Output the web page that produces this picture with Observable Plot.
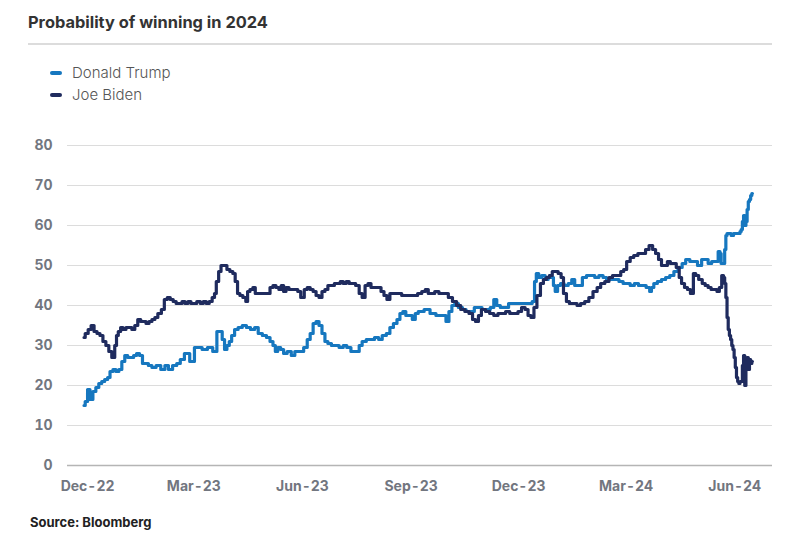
<!DOCTYPE html>
<html><head><meta charset="utf-8">
<script src="https://cdn.jsdelivr.net/npm/d3@7"></script>
<script src="https://cdn.jsdelivr.net/npm/@observablehq/plot@0.6"></script>
<style>
body{margin:0;background:#fff;}
#wrap{position:relative;width:800px;height:535px;font-family:Inter,"Open Sans",sans-serif;}
#title{position:absolute;left:28px;top:12px;font-size:16.4px;font-weight:700;color:#333;line-height:20px;}
#rule{position:absolute;left:28px;top:43px;width:744px;height:2px;background:#dcdcdc;}
.leg{position:absolute;left:50px;font-size:15px;font-weight:300;color:#555;display:flex;align-items:center;line-height:18px;}
.sw{width:12px;height:4px;border-radius:2px;margin-right:10px;}
#chart{position:absolute;left:0;top:115px;}
#source{position:absolute;left:30px;top:514px;font-size:13px;font-weight:700;color:#222;line-height:16px;}
</style></head>
<body>
<div id="wrap">
  <div id="title"></div>
  <div id="rule"></div>
  <div id="legend"></div>
  <div id="chart"></div>
  <div id="source"></div>
</div>
<script>
const titleText = "Probability of winning in 2024";
const sourceText = "Source: Bloomberg";
const seriesNames = ["Donald Trump", "Joe Biden"];
const seriesColors = ["#1677bf", "#1f2b5e"];
const yTicks = [0, 10, 20, 30, 40, 50, 60, 70, 80];
const xTicks = ["2022-12-01", "2023-03-01", "2023-06-01", "2023-09-01", "2023-12-01", "2024-03-01", "2024-06-01"];
const xDomain = ["2022-11-14", "2024-07-03"];

const trump = [
["2022-11-28",15],["2022-11-30",16],["2022-12-02",19],["2022-12-04",16.5],["2022-12-07",18.5],["2022-12-09",19.5],
["2022-12-12",20.5],["2022-12-14",21],["2022-12-17",21.5],["2022-12-19",22],["2022-12-21",23.5],["2022-12-24",24],
["2022-12-26",23.5],["2022-12-29",24],["2022-12-31",26],["2023-01-03",27.5],["2023-01-05",27],["2023-01-08",27],
["2023-01-10",27.5],["2023-01-13",28],["2023-01-15",27.5],["2023-01-18",25.5],["2023-01-20",25.5],["2023-01-23",25],
["2023-01-26",24.5],["2023-01-30",25],["2023-02-03",24],["2023-02-06",25],["2023-02-09",24],["2023-02-13",25],
["2023-02-16",25.5],["2023-02-19",26.5],["2023-02-23",28],["2023-02-25",28],["2023-02-26",26],["2023-02-28",26],
["2023-03-03",29.5],["2023-03-06",29.5],["2023-03-10",29],["2023-03-15",29.5],["2023-03-19",28.5],["2023-03-22",33.5],
["2023-03-24",33.5],["2023-03-26",31.5],["2023-03-28",29],["2023-03-30",30],["2023-04-01",31],["2023-04-03",32.5],
["2023-04-06",34],["2023-04-09",34.5],["2023-04-13",35],["2023-04-16",34.5],["2023-04-20",34],["2023-04-23",34.5],
["2023-04-26",33],["2023-04-30",32.5],["2023-05-03",32],["2023-05-06",31],["2023-05-08",30],["2023-05-10",28.5],
["2023-05-12",29.5],["2023-05-15",29],["2023-05-17",28],["2023-05-21",28.5],["2023-05-24",27.5],["2023-05-27",28.5],
["2023-05-31",28.5],["2023-06-04",29.5],["2023-06-06",31.5],["2023-06-09",33],["2023-06-11",35.5],["2023-06-14",36],
["2023-06-16",35],["2023-06-19",33],["2023-06-21",31],["2023-06-24",30.5],["2023-06-27",30],["2023-06-30",30],
["2023-07-04",29.5],["2023-07-07",30],["2023-07-10",29.5],["2023-07-14",28.5],["2023-07-18",28.5],["2023-07-20",30],
["2023-07-23",31],["2023-07-27",31.5],["2023-07-30",31.5],["2023-08-03",32],["2023-08-06",31.5],["2023-08-09",32.5],
["2023-08-13",33],["2023-08-15",34.5],["2023-08-19",35.5],["2023-08-21",36.5],["2023-08-24",38],["2023-08-26",38.5],
["2023-08-29",37.5],["2023-09-01",37.5],["2023-09-03",36.5],["2023-09-06",38],["2023-09-08",38.5],["2023-09-11",38.5],
["2023-09-13",39],["2023-09-16",39],["2023-09-18",38],["2023-09-21",38],["2023-09-23",37.5],["2023-09-26",37.5],
["2023-09-29",37.5],["2023-10-02",36],["2023-10-04",38.5],["2023-10-07",40],["2023-10-09",40.5],["2023-10-13",39.5],
["2023-10-16",39],["2023-10-19",38.5],["2023-10-23",38.5],["2023-10-26",39.5],["2023-10-29",39.5],["2023-11-02",39],
["2023-11-05",39],["2023-11-09",39.5],["2023-11-11",41.5],["2023-11-14",40],["2023-11-17",39.5],["2023-11-21",39.5],
["2023-11-24",40.5],["2023-11-28",40.5],["2023-12-01",40.5],["2023-12-04",40.5],["2023-12-08",40.5],["2023-12-11",40.5],
["2023-12-14",41],["2023-12-15",46],["2023-12-17",48],["2023-12-19",47],["2023-12-22",47.5],["2023-12-25",46.5],
["2023-12-27",47],["2023-12-30",47],["2023-12-31",45],["2024-01-02",43.5],["2024-01-04",45],["2024-01-07",45.5],
["2024-01-10",45],["2024-01-14",45.5],["2024-01-16",46.5],["2024-01-19",45],["2024-01-22",45],["2024-01-26",47],
["2024-01-29",47.5],["2024-02-02",47.5],["2024-02-05",47],["2024-02-09",47.5],["2024-02-12",47],["2024-02-15",46.5],
["2024-02-19",46.5],["2024-02-22",46.5],["2024-02-26",46],["2024-02-29",45.5],["2024-03-03",45.5],["2024-03-06",45],
["2024-03-10",45.5],["2024-03-13",45],["2024-03-16",45],["2024-03-20",44.5],["2024-03-22",43.5],["2024-03-23",44.5],
["2024-03-26",45.5],["2024-03-29",46],["2024-04-02",46.5],["2024-04-05",47],["2024-04-09",47.5],["2024-04-12",48.5],
["2024-04-16",49.5],["2024-04-19",50.5],["2024-04-22",51.5],["2024-04-26",51],["2024-04-29",51],["2024-05-02",50],
["2024-05-06",51.5],["2024-05-08",51.5],["2024-05-11",50.5],["2024-05-14",51],["2024-05-17",51],["2024-05-19",53.5],
["2024-05-20",53],["2024-05-21",50.5],["2024-05-23",50.5],["2024-05-24",54],["2024-05-25",57.5],["2024-05-26",58],
["2024-05-28",58],["2024-05-30",57.5],["2024-06-01",58],["2024-06-03",58],["2024-06-05",58],["2024-06-06",58.5],
["2024-06-07",59],["2024-06-08",61],["2024-06-09",62.5],["2024-06-10",60],["2024-06-11",61],["2024-06-12",64],
["2024-06-13",66],["2024-06-14",66.5],["2024-06-15",67.5],["2024-06-16",68]
];

const biden = [
["2022-11-28",32],["2022-11-30",33],["2022-12-03",34],["2022-12-05",35],["2022-12-08",33.5],["2022-12-10",33],
["2022-12-13",32.5],["2022-12-15",31],["2022-12-18",30],["2022-12-20",28.5],["2022-12-23",27],["2022-12-25",30],
["2022-12-26",32.5],["2022-12-28",33.5],["2022-12-30",34.5],["2023-01-01",34],["2023-01-04",34.5],["2023-01-06",34.5],
["2023-01-09",34],["2023-01-11",35],["2023-01-14",36.5],["2023-01-16",36],["2023-01-18",36],["2023-01-21",35.5],
["2023-01-23",36],["2023-01-26",36.5],["2023-01-28",37],["2023-01-31",38],["2023-02-03",39],["2023-02-05",41.5],
["2023-02-08",42],["2023-02-10",41.5],["2023-02-13",41],["2023-02-15",40.5],["2023-02-18",40.5],["2023-02-20",41],
["2023-02-23",40.5],["2023-02-25",41],["2023-02-28",40.5],["2023-03-02",40.5],["2023-03-05",41],["2023-03-08",40.5],
["2023-03-10",41],["2023-03-13",40.5],["2023-03-15",41],["2023-03-18",42],["2023-03-19",43],["2023-03-21",46],
["2023-03-23",48.5],["2023-03-25",50],["2023-03-28",50],["2023-03-30",49],["2023-04-02",48.5],["2023-04-04",48],
["2023-04-06",46],["2023-04-08",43],["2023-04-10",42.5],["2023-04-13",42],["2023-04-15",41],["2023-04-16",43.5],
["2023-04-19",44],["2023-04-21",44.5],["2023-04-23",43],["2023-04-26",43],["2023-04-28",43],["2023-04-30",43],
["2023-05-03",43],["2023-05-06",44.5],["2023-05-08",45],["2023-05-11",44.5],["2023-05-13",44],["2023-05-15",45],
["2023-05-17",43.5],["2023-05-19",44.5],["2023-05-22",44],["2023-05-24",44],["2023-05-27",44],["2023-05-29",43.5],
["2023-06-01",42],["2023-06-04",44],["2023-06-06",44.5],["2023-06-09",44],["2023-06-11",43.5],["2023-06-14",42.5],
["2023-06-16",42],["2023-06-19",43.5],["2023-06-21",44],["2023-06-24",45],["2023-06-27",45],["2023-06-29",45.5],
["2023-07-02",45.5],["2023-07-04",46],["2023-07-07",45.5],["2023-07-09",46],["2023-07-12",45.5],["2023-07-14",45.5],
["2023-07-18",45],["2023-07-20",43],["2023-07-23",42],["2023-07-25",45],["2023-07-28",45.5],["2023-07-30",44.5],
["2023-08-02",44.5],["2023-08-05",44.5],["2023-08-08",43.5],["2023-08-10",42.5],["2023-08-13",41.5],["2023-08-15",43],
["2023-08-19",43],["2023-08-22",43],["2023-08-26",42.5],["2023-08-29",42.5],["2023-09-01",42.5],["2023-09-05",42.5],
["2023-09-08",43],["2023-09-12",43.5],["2023-09-14",44],["2023-09-17",43],["2023-09-19",43],["2023-09-23",43.5],
["2023-09-26",43],["2023-09-29",43],["2023-10-01",43],["2023-10-04",42],["2023-10-08",41],["2023-10-11",40],
["2023-10-15",39],["2023-10-18",38.5],["2023-10-22",38],["2023-10-24",36.5],["2023-10-27",36],["2023-10-29",37.5],
["2023-11-01",39],["2023-11-05",38.5],["2023-11-08",38],["2023-11-12",37.5],["2023-11-15",38],["2023-11-18",38],
["2023-11-22",38.5],["2023-11-25",38],["2023-11-29",38],["2023-12-02",38.5],["2023-12-05",39.5],["2023-12-08",39],
["2023-12-10",37.5],["2023-12-13",37],["2023-12-15",39.5],["2023-12-18",42.5],["2023-12-21",45.5],["2023-12-23",46.5],
["2023-12-26",47],["2023-12-28",47.5],["2023-12-31",48.5],["2024-01-02",48.5],["2024-01-05",48],["2024-01-07",47],
["2024-01-09",43],["2024-01-12",41],["2024-01-14",40.5],["2024-01-18",40.5],["2024-01-21",40],["2024-01-24",40.5],
["2024-01-28",41],["2024-01-31",42],["2024-02-04",43.5],["2024-02-07",44.5],["2024-02-10",45.5],["2024-02-14",46],
["2024-02-17",47],["2024-02-20",47.5],["2024-02-24",47.5],["2024-02-27",48.5],["2024-02-29",49],["2024-03-03",51],
["2024-03-06",52],["2024-03-09",52.5],["2024-03-13",53],["2024-03-16",53],["2024-03-19",54],["2024-03-22",55],
["2024-03-25",54],["2024-03-27",53],["2024-03-30",51.5],["2024-04-01",50],["2024-04-04",50],["2024-04-06",51],
["2024-04-09",50.5],["2024-04-11",50.5],["2024-04-14",49.5],["2024-04-16",47],["2024-04-18",45.5],["2024-04-21",44.5],
["2024-04-23",44],["2024-04-26",43],["2024-04-28",48],["2024-04-30",47.5],["2024-05-03",46.5],["2024-05-06",45.5],
["2024-05-08",45],["2024-05-11",44.5],["2024-05-13",44],["2024-05-16",44],["2024-05-18",43.5],["2024-05-20",44.5],
["2024-05-22",47.5],["2024-05-23",47],["2024-05-24",45.5],["2024-05-25",42],["2024-05-26",37],["2024-05-27",34],
["2024-05-28",32.5],["2024-05-29",31.5],["2024-05-30",30],["2024-05-31",29],["2024-06-01",27],["2024-06-02",24.5],
["2024-06-03",22],["2024-06-04",21],["2024-06-05",20.5],["2024-06-06",21],["2024-06-07",21],["2024-06-08",25],
["2024-06-09",27.5],["2024-06-10",20],["2024-06-11",25],["2024-06-12",27],["2024-06-13",24],["2024-06-14",26.5],
["2024-06-15",25.5],["2024-06-16",26]
];

const toRows = (arr) => arr.map(([d, v]) => ({date: new Date(d), value: v}));
const trumpRows = toRows(trump);
const bidenRows = toRows(biden);

document.getElementById("title").textContent = titleText;
document.getElementById("source").textContent = sourceText;
const legend = document.getElementById("legend");
seriesNames.forEach((name, i) => {
  const item = document.createElement("div");
  item.className = "leg";
  item.style.top = (64 + i * 22) + "px";
  const sw = document.createElement("span");
  sw.className = "sw";
  sw.style.background = seriesColors[i];
  const t = document.createElement("span");
  t.textContent = name;
  item.appendChild(sw); item.appendChild(t);
  legend.appendChild(item);
});

const chart = Plot.plot({
  width: 800,
  height: 390,
  marginLeft: 67,
  marginRight: 28,
  marginTop: 30,
  marginBottom: 40,
  style: {fontFamily: "Inter, 'Open Sans', sans-serif", fontSize: "14px", background: "transparent", overflow: "visible"},
  x: {type: "utc", domain: xDomain.map(d => new Date(d))},
  y: {domain: [0, 80]},
  marks: [
    Plot.gridY(yTicks, {stroke: "#dcdcdc", strokeOpacity: 1, strokeWidth: 1.2}),
    Plot.ruleY([0], {stroke: "#b5b5b5", strokeWidth: 1.5}),
    Plot.axisY(yTicks, {tickSize: 0, tickPadding: 15, fontWeight: 700, fill: "#72767f", label: null}),
    Plot.axisX(xTicks.map(d => new Date(d)), {tickSize: 0, tickPadding: 16, fontWeight: 700, fill: "#72767f", label: null, tickFormat: d3.utcFormat("%b-%y")}),
    Plot.lineY(trumpRows, {x: "date", y: "value", curve: "step", stroke: seriesColors[0], strokeWidth: 3.2, strokeLinejoin: "round", strokeLinecap: "round"}),
    Plot.lineY(bidenRows, {x: "date", y: "value", curve: "step", stroke: seriesColors[1], strokeWidth: 3.2, strokeLinejoin: "round", strokeLinecap: "round"})
  ]
});
document.getElementById("chart").appendChild(chart);
</script>
</body></html>
